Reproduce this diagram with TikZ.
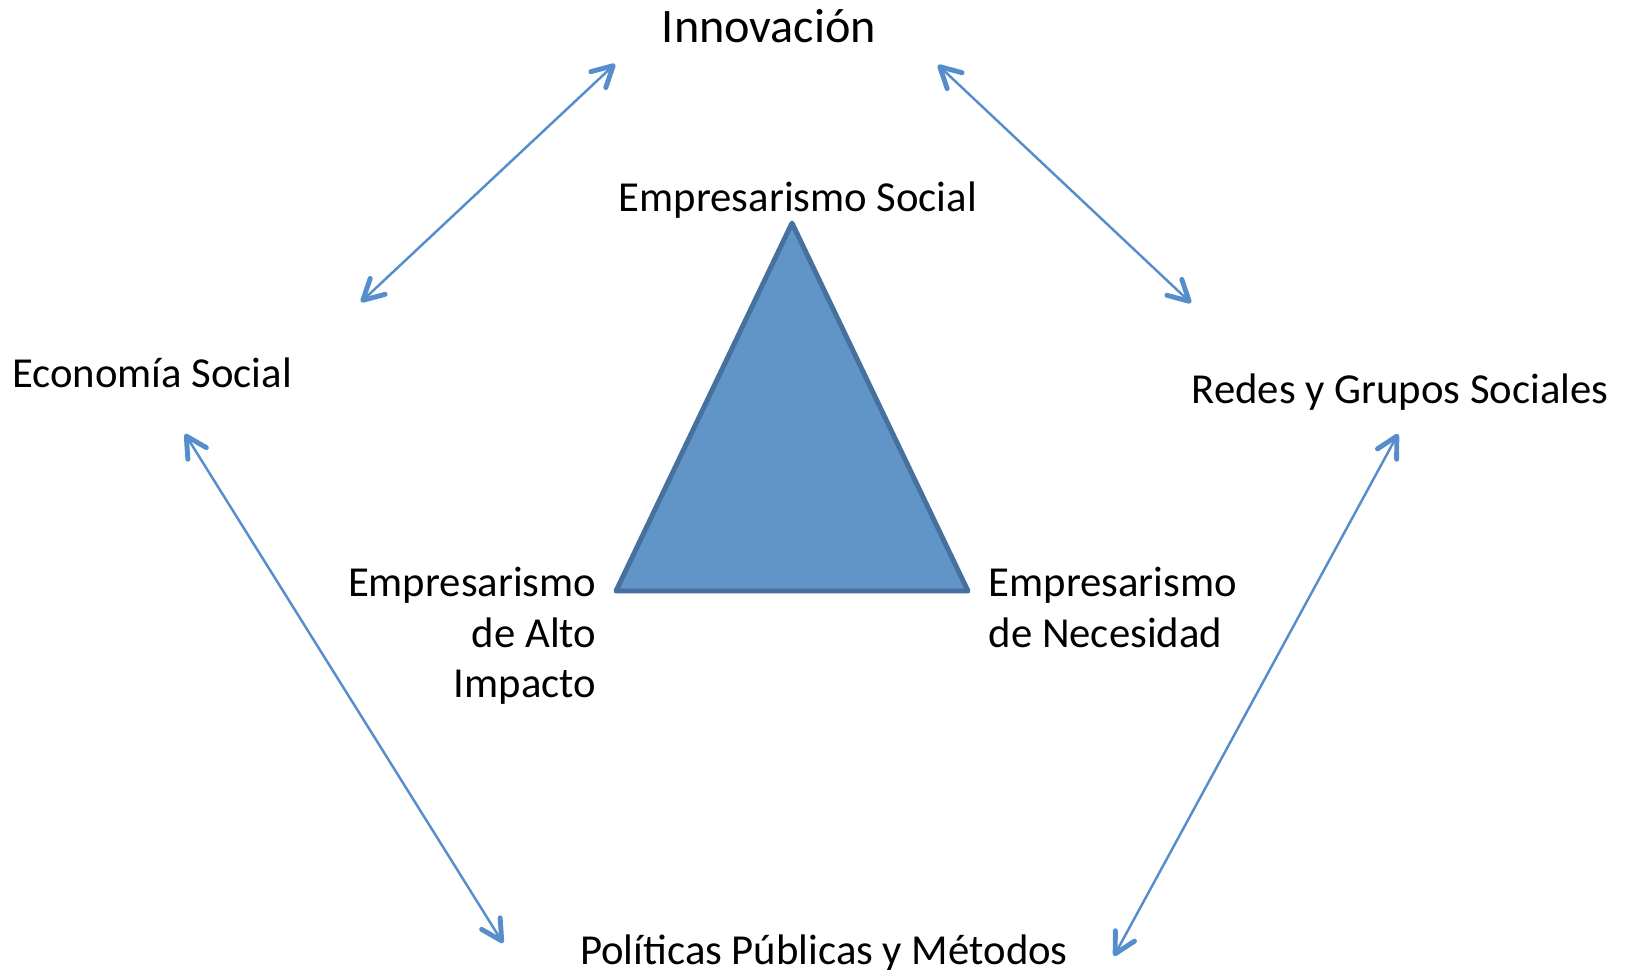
\documentclass[tikz,border=0pt]{standalone}
\usepackage{fontspec}
\setmainfont{Carlito}
\usetikzlibrary{arrows.meta}
\definecolor{linkblue}{RGB}{85,142,203}
\definecolor{trifill}{RGB}{97,149,199}
\definecolor{triedge}{RGB}{70,112,158}
\begin{document}
\begin{tikzpicture}[x=0.01cm,y=-0.01cm,
  lbl/.style={inner sep=0pt,font=\fontsize{12.15}{14.5}\selectfont},
  barb/.tip={Straight Barb[length=5.8pt,width=6.2pt,line width=1.4pt,round]},
  link/.style={linkblue,line width=0.7pt,barb-barb}]
\useasboundingbox (0,0) rectangle (1629,970);

% outer labels
\node[lbl,font=\fontsize{13.7}{16}\selectfont,anchor=base] (innov) at (769,42.6) {Innovación};
\node[lbl,anchor=base] (econ) at (152,387.5) {Economía Social};
\node[lbl,anchor=base] (redes) at (1400,404) {Redes y Grupos Sociales};
\node[lbl,anchor=base] (polit) at (824,964) {Políticas Públicas y Métodos};

% triangle and its corners
\coordinate (apex) at (792,223);
\coordinate (left) at (616,591);
\coordinate (right) at (968,591);
\filldraw[fill=trifill,draw=triedge,line width=1.4pt,line join=round] (apex) -- (right) -- (left) -- cycle;

\node[lbl,anchor=base] (social) at (798,212) {Empresarismo Social};
\node[lbl,align=right,anchor=base east] (alto) at (597,698) {Empresarismo\\de Alto\\Impacto};
\node[lbl,align=left,anchor=base west] (neces) at (988,647) {Empresarismo\\de Necesidad};

% arrow ends
\coordinate (innov-w) at (615,64);
\coordinate (econ-n) at (361,302);
\coordinate (innov-e) at (938,65);
\coordinate (redes-n) at (1191,303);
\coordinate (econ-s) at (185,434);
\coordinate (polit-w) at (503,943);
\coordinate (redes-s) at (1398,434);
\coordinate (polit-e) at (1114,956);

\draw[link] (econ-n) -- (innov-w);
\draw[link] (innov-e) -- (redes-n);
\draw[link] (econ-s) -- (polit-w);
\draw[link] (redes-s) -- (polit-e);

\end{tikzpicture}
\end{document}
